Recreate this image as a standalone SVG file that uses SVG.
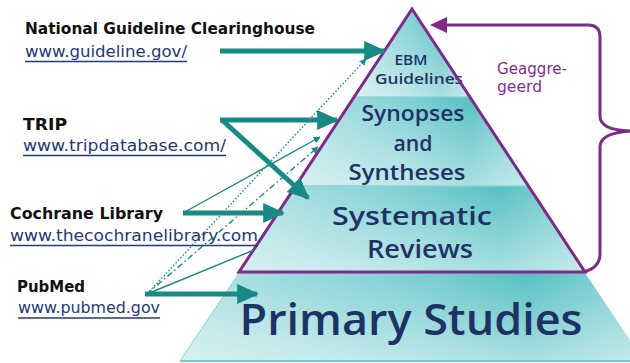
<svg xmlns="http://www.w3.org/2000/svg" width="630" height="363" viewBox="0 0 630 363">
  <defs>
    <linearGradient id="bandFill" x1="0" y1="0" x2="1" y2="0">
      <stop offset="0" stop-color="#b3e2e5"/>
      <stop offset="0.5" stop-color="#7ccfd2"/>
      <stop offset="0.75" stop-color="#55c0c3"/>
      <stop offset="1" stop-color="#8fd5d8"/>
    </linearGradient>
    <linearGradient id="sheen" x1="0" y1="0" x2="0" y2="1">
      <stop offset="0" stop-color="#ffffff" stop-opacity="0"/>
      <stop offset="1" stop-color="#ffffff" stop-opacity="0.5"/>
    </linearGradient>
    <marker id="thinHead" viewBox="0 0 10 10" refX="9" refY="5" markerWidth="7" markerHeight="7" orient="auto" markerUnits="userSpaceOnUse">
      <path d="M0,0 L10,5 L0,10 Z" fill="#178a84"/>
    </marker>
    <marker id="thickHead" viewBox="0 0 10 10" refX="9" refY="5" markerWidth="22" markerHeight="22" orient="auto" markerUnits="userSpaceOnUse">
      <path d="M0,0.5 L10,5 L0,9.5 Z" fill="#178a84"/>
    </marker>
  </defs>
  <style>
    .label { font-family: "DejaVu Sans", "Liberation Sans", sans-serif; font-weight: bold; font-size: 15px; fill: #111111; }
    .link { font-family: "DejaVu Sans", "Liberation Sans", sans-serif; font-size: 16px; fill: #22397a; }
    .uline { stroke: #22397a; stroke-width: 1.3; }
    .tier { font-family: "Open Sans", "DejaVu Sans", sans-serif; font-weight: 600; fill: #1e3264; text-anchor: middle; }
    .band { fill: url(#bandFill); }
    .gloss { fill: url(#sheen); }
    .sep { stroke: #8cd2d5; stroke-width: 1.5; }
    .thick { stroke: #178a84; stroke-width: 5; fill: none; }
    .thin { stroke: #178a84; stroke-width: 1.4; fill: none; }
    .purple { stroke: #7d2a88; stroke-width: 3; fill: none; }
    .note { font-family: "DejaVu Sans", "Liberation Sans", sans-serif; font-size: 16px; fill: #8a2a8e; }
  </style>

  <rect width="630" height="363" fill="#ffffff"/>

  <!-- Bottom tier of the pyramid -->
  <g id="tier-primary">
    <polygon class="band" points="239,273 585,273 644,361 180,361"/>
    <polygon class="gloss" points="239,273 585,273 644,361 180,361"/>
    <line x1="180" y1="361" x2="644" y2="361" stroke="#6fc9cc" stroke-width="2"/>
    <line x1="239" y1="273" x2="180" y2="361" stroke="#8fd5d8" stroke-width="1"/>
    <text class="tier" x="411" y="335" font-size="44" textLength="343" lengthAdjust="spacingAndGlyphs">Primary Studies</text>
  </g>

  <!-- Systematic reviews tier -->
  <g id="tier-reviews">
    <polygon class="band" points="296,186 528,186 585,272 239,272"/>
    <polygon class="gloss" points="296,186 528,186 585,272 239,272"/>
    <text class="tier" x="412" y="225" font-size="25" textLength="160" lengthAdjust="spacingAndGlyphs">Systematic</text>
    <text class="tier" x="420" y="258" font-size="25" textLength="106" lengthAdjust="spacingAndGlyphs">Reviews</text>
  </g>

  <!-- Synopses tier -->
  <g id="tier-synopses">
    <polygon class="band" points="354,97 470,97 528,186 296,186"/>
    <polygon class="gloss" points="354,97 470,97 528,186 296,186"/>
    <text class="tier" x="413" y="121" font-size="21" textLength="103" lengthAdjust="spacingAndGlyphs">Synopses</text>
    <text class="tier" x="413" y="151" font-size="21" textLength="39" lengthAdjust="spacingAndGlyphs">and</text>
    <text class="tier" x="407" y="180" font-size="21" textLength="117" lengthAdjust="spacingAndGlyphs">Syntheses</text>
  </g>

  <!-- Guidelines tier -->
  <g id="tier-guidelines">
    <polygon class="band" points="412,9 470,97 354,97"/>
    <polygon class="gloss" points="412,9 470,97 354,97"/>
    <text class="tier" x="411" y="65" font-size="14" textLength="33" lengthAdjust="spacingAndGlyphs">EBM</text>
    <text class="tier" x="419" y="84" font-size="14" textLength="88" lengthAdjust="spacingAndGlyphs">Guidelines</text>
  </g>

  <!-- Tier boundaries and outline -->
  <g id="pyramid-outline">
    <line class="sep" x1="354" y1="97" x2="470" y2="97"/>
    <line class="sep" x1="296" y1="186" x2="528" y2="186"/>
    <polygon class="purple" points="412,9 585,272 239,272" stroke-linejoin="miter"/>
  </g>

  <!-- Aggregated bracket -->
  <g id="aggregated">
    <path class="purple" d="M444,25 L588,25 Q600,25 600,37 L600,116 Q600,130 630,131 Q600,133 600,147 L600,254 Q600,268 583,272"/>
    <path d="M430,25 L447,17 L447,33 Z" fill="#7d2a88"/>
    <text class="note" x="497" y="74" textLength="70" lengthAdjust="spacingAndGlyphs">Geaggre-</text>
    <text class="note" x="497" y="92" textLength="45" lengthAdjust="spacingAndGlyphs">geerd</text>
  </g>

  <!-- Sources -->
  <g id="source-ngc">
    <text class="label" x="25" y="34" textLength="290" lengthAdjust="spacingAndGlyphs">National Guideline Clearinghouse</text>
    <text class="link" x="25" y="57" textLength="162" lengthAdjust="spacingAndGlyphs">www.guideline.gov/</text>
    <line class="uline" x1="25" y1="61.5" x2="187" y2="61.5"/>
  </g>
  <g id="source-trip">
    <text class="label" x="23" y="130" textLength="44" lengthAdjust="spacingAndGlyphs">TRIP</text>
    <text class="link" x="23" y="151" textLength="203" lengthAdjust="spacingAndGlyphs">www.tripdatabase.com/</text>
    <line class="uline" x1="23" y1="155.5" x2="226" y2="155.5"/>
  </g>
  <g id="source-cochrane">
    <text class="label" x="10" y="219" textLength="153" lengthAdjust="spacingAndGlyphs">Cochrane Library</text>
    <text class="link" x="10" y="241" textLength="248" lengthAdjust="spacingAndGlyphs">www.thecochranelibrary.com</text>
    <line class="uline" x1="10" y1="245.5" x2="258" y2="245.5"/>
  </g>
  <g id="source-pubmed">
    <text class="label" x="17" y="292" textLength="68" lengthAdjust="spacingAndGlyphs">PubMed</text>
    <text class="link" x="18" y="313" textLength="142" lengthAdjust="spacingAndGlyphs">www.pubmed.gov</text>
    <line class="uline" x1="18" y1="318" x2="160" y2="318"/>
  </g>

  <!-- Connectors -->
  <g id="connectors">
    <line class="thin" x1="147" y1="294" x2="366" y2="59" stroke-dasharray="1.5 2" marker-end="url(#thinHead)"/>
    <line class="thin" x1="147" y1="294" x2="318" y2="147" stroke-dasharray="6 3 1.5 3" marker-end="url(#thinHead)"/>
    <line class="thin" x1="147" y1="294" x2="254" y2="250"/>
    <line class="thin" x1="183" y1="213" x2="320" y2="137" marker-end="url(#thinHead)"/>
    <line class="thick" x1="220" y1="51" x2="384" y2="51" marker-end="url(#thickHead)"/>
    <line class="thick" x1="220" y1="120" x2="337" y2="120" marker-end="url(#thickHead)"/>
    <line class="thick" x1="222" y1="120" x2="308" y2="198" marker-end="url(#thickHead)"/>
    <line class="thick" x1="183" y1="213" x2="283" y2="213" marker-end="url(#thickHead)"/>
    <line class="thick" x1="145" y1="294" x2="257" y2="294" marker-end="url(#thickHead)"/>
  </g>
</svg>
